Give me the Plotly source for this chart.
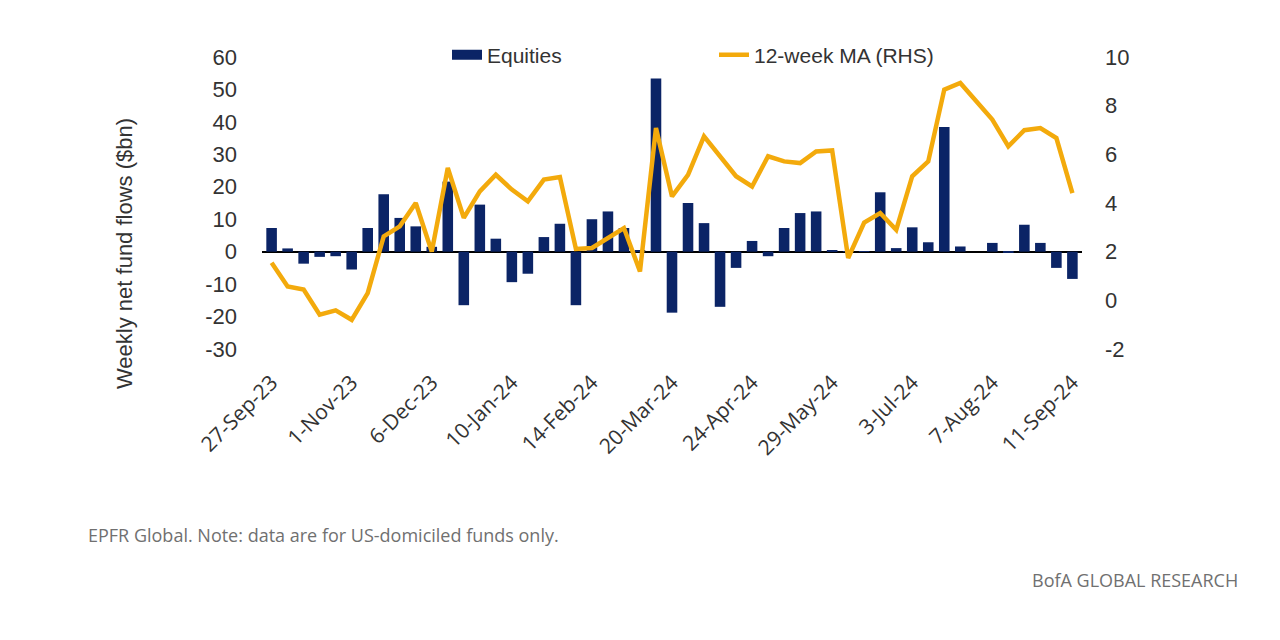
import plotly.graph_objects as go

weeks = ["27-Sep-23","4-Oct-23","11-Oct-23","18-Oct-23","25-Oct-23","1-Nov-23","8-Nov-23","15-Nov-23","22-Nov-23","29-Nov-23",
         "6-Dec-23","13-Dec-23","20-Dec-23","27-Dec-23","3-Jan-24","10-Jan-24","17-Jan-24","24-Jan-24","31-Jan-24","7-Feb-24",
         "14-Feb-24","21-Feb-24","28-Feb-24","6-Mar-24","13-Mar-24","20-Mar-24","27-Mar-24","3-Apr-24","10-Apr-24","17-Apr-24",
         "24-Apr-24","1-May-24","8-May-24","15-May-24","22-May-24","29-May-24","5-Jun-24","12-Jun-24","19-Jun-24","26-Jun-24",
         "3-Jul-24","10-Jul-24","17-Jul-24","24-Jul-24","31-Jul-24","7-Aug-24","14-Aug-24","21-Aug-24","28-Aug-24","4-Sep-24",
         "11-Sep-24"]

equities = [7.3, 1.0, -3.7, -1.6, -1.4, -5.5, 7.3, 17.7, 10.4, 7.8,
            1.5, 21.6, -16.5, 14.5, 4.0, -9.4, -6.8, 4.5, 8.6, -16.5,
            10.0, 12.4, 7.3, 0.3, 53.4, -18.8, 15.0, 8.8, -17.0, -5.0,
            3.3, -1.4, 7.3, 11.9, 12.4, 0.5, 0.2, 0.2, 18.3, 1.1,
            7.5, 2.9, 38.4, 1.6, 0.0, 2.7, -0.4, 8.3, 2.7, -5.0,
            -8.4]

ma12 = [1.54, 0.57, 0.44, -0.59, -0.41, -0.80, 0.30, 2.63, 3.04, 4.00,
        2.00, 5.44, 3.39, 4.48, 5.16, 4.55, 4.07, 4.96, 5.07, 2.11,
        2.15, 2.56, 2.97, 1.19, 7.08, 4.27, 5.16, 6.74, 5.92, 5.10,
        4.68, 5.92, 5.71, 5.64, 6.12, 6.16, 1.74, 3.20, 3.59, 2.90,
        5.10, 5.71, 8.66, 8.93, 8.18, 7.43, 6.33, 6.99, 7.08, 6.67,
        4.41]

tick_labels = ["27-Sep-23","1-Nov-23","6-Dec-23","10-Jan-24","14-Feb-24","20-Mar-24",
               "24-Apr-24","29-May-24","3-Jul-24","7-Aug-24","11-Sep-24"]

left_ticks = [-30, -20, -10, 0, 10, 20, 30, 40, 50, 60]
left_tick_text = ["-30", "-20", "-10", "0", "10", "20", "30", "40", "50", "60"]
right_ticks = [-2, 0, 2, 4, 6, 8, 10]
right_tick_text = ["-2", "0", "2", "4", "6", "8", "10"]

idx = list(range(len(weeks)))
tick_idx = [weeks.index(t) for t in tick_labels]

NAVY = "#0B2466"
GOLD = "#F3AA0C"

fig = go.Figure()
fig.add_trace(go.Bar(x=idx, y=equities, name="Equities", marker=dict(color=NAVY, line=dict(width=0)),
                     width=0.66, yaxis="y", showlegend=False))
# legend-only swatch for the bars (wide rectangle as in the original)
fig.add_trace(go.Scatter(x=[None], y=[None], name="Equities", mode="lines",
                         line=dict(color=NAVY, width=14), yaxis="y", showlegend=True))
fig.add_trace(go.Scatter(x=idx, y=ma12, name="12-week MA (RHS)", mode="lines",
                         line=dict(color=GOLD, width=4.5), yaxis="y2"))

OFF = 8  # default page body margin
W, H = 1280, 640
L, R, T, B = 262 - OFF, 1082 - OFF, 57 - OFF, 349 - OFF

def px(x):
    return (x - OFF - L) / (R - L)

def py(y):
    return (B - (y - OFF)) / (B - T)

fig.update_layout(
    width=W, height=H,
    margin=dict(l=L, r=W - R, t=T, b=H - B, autoexpand=False),
    paper_bgcolor="white", plot_bgcolor="white",
    font=dict(family="Liberation Sans, Arial", color="#333333"),
    showlegend=True,
    legend=dict(orientation="h", x=px(447), xanchor="left", y=py(55), yanchor="middle",
                font=dict(size=21, color="#333333"), bgcolor="rgba(0,0,0,0)",
                entrywidth=222, entrywidthmode="pixels"),
    xaxis=dict(range=[-0.6, 50.6], tickmode="array", tickvals=tick_idx, ticktext=tick_labels,
               tickangle=-45, showgrid=False, zeroline=False, showline=False, ticks="",
               ticklabelstandoff=16,
               tickfont=dict(family="Open Sans", size=21, color="#333333")),
    yaxis=dict(range=[-30, 60], tickmode="array", tickvals=left_ticks, ticktext=left_tick_text,
               showgrid=False, zeroline=True, zerolinecolor="#000000", zerolinewidth=1.5,
               showline=False, ticks="", ticklabelstandoff=24,
               tickfont=dict(size=22, color="#333333")),
    yaxis2=dict(range=[-2, 10], tickmode="array", tickvals=right_ticks, ticktext=right_tick_text,
                overlaying="y", side="right",
                showgrid=False, zeroline=False, showline=False, ticks="", ticklabelstandoff=22,
                tickfont=dict(size=22, color="#333333")),
    annotations=[
        dict(text="Weekly net fund flows ($bn)", textangle=-90, xref="paper", yref="paper",
             x=px(125), y=py(254), xanchor="center", yanchor="middle", showarrow=False,
             font=dict(size=22, color="#333333")),
        dict(text="EPFR Global. Note: data are for US-domiciled funds only.", xref="paper", yref="paper",
             x=px(86), y=py(535), xanchor="left", yanchor="middle", showarrow=False,
             font=dict(family="Open Sans", size=18, color="#707070")),
        dict(text="BofA GLOBAL RESEARCH", xref="paper", yref="paper",
             x=px(1240), y=py(580), xanchor="right", yanchor="middle", showarrow=False,
             font=dict(family="Open Sans", size=18, color="#707070")),
    ],
)

fig.write_html("out.html")
